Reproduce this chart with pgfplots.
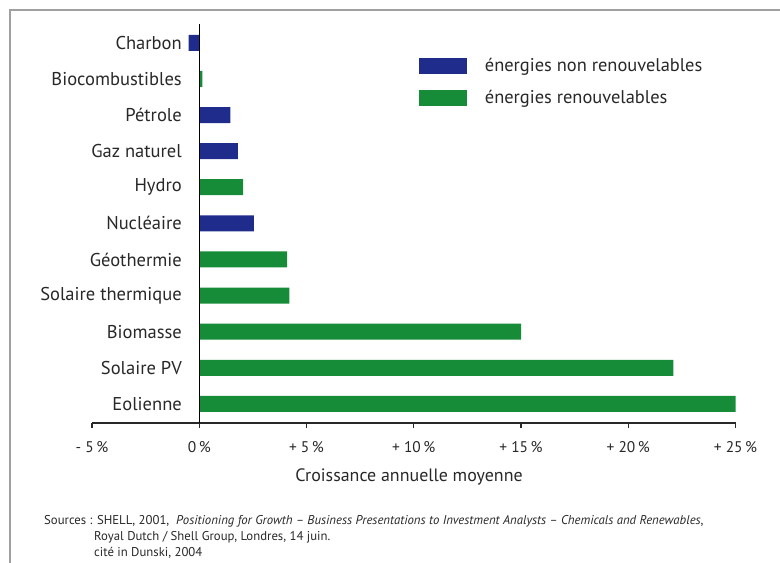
\documentclass[border=0pt]{standalone}
\usepackage{fontspec}
\setmainfont{PT Sans}
\usepackage{pgfplots}
\pgfplotsset{compat=1.18}
\definecolor{nonrenew}{RGB}{31,44,140}
\definecolor{renew}{RGB}{22,140,56}
\definecolor{axisgray}{RGB}{40,40,40}
\definecolor{framegray}{RGB}{160,160,160}
\begin{document}
\begin{tikzpicture}
\useasboundingbox (0,0) rectangle (780bp,-563bp);
\draw[framegray, line width=1.6bp] (10bp,-563bp) -- (10bp,-10bp) -- (780bp,-10bp);
\begin{axis}[
  at={(92bp,-422.7bp)}, anchor=south west,
  scale only axis, width=643.5bp, height=398.7bp,
  xbar, bar width=16bp,
  xmin=-5, xmax=25, ymin=-0.52, ymax=10.52,
  axis x line*=bottom, axis y line*=left,
  y axis line style={draw=none},
  x axis line style={axisgray, line width=1.6bp},
  xtick={-5,0,5,10,15,20,25},
  xticklabels={- 5\,\%, 0\,\%, + 5\,\%, + 10\,\%, + 15\,\%, + 20\,\%, + 25\,\%},
  tick align=outside, major tick length=5bp,
  xtick style={axisgray, line width=1.4bp},
  ytick style={draw=none},
  xticklabel style={font=\fontsize{15.5}{18}\selectfont, text=axisgray, yshift=-10bp},
  ytick={0,...,10},
  yticklabels={Eolienne, Solaire PV, Biomasse, Solaire thermique, Géothermie, Nucléaire, Hydro, Gaz naturel, Pétrole, Biocombustibles, Charbon},
  yticklabel style={font=\fontsize{18.6}{21}\selectfont, text=axisgray, inner sep=0pt, xshift=95bp},
  xlabel={Croissance annuelle moyenne},
  xlabel style={font=\fontsize{18}{21}\selectfont, text=axisgray, at={(axis description cs:0.4926,0)}, anchor=center, yshift=-54.3bp},
  legend style={at={(axis description cs:0.508,0.9155)}, anchor=north west, draw=none, fill=none,
    inner sep=0pt, outer sep=0pt, row sep=16bp, font=\fontsize{18.5}{21}\selectfont, text=axisgray,
    nodes={inner sep=0pt, anchor=west},
    /tikz/every odd column/.append style={column sep=18bp}},
  clip=false,
]
\addplot[fill=nonrenew, draw=none, bar shift=0pt,
  legend image code/.code={\fill[nonrenew] (0bp,-8bp) rectangle (48bp,8bp);}]
  coordinates {(-0.5,10) (1.45,8) (1.8,7) (2.55,5)};
\addlegendentry{énergies non renouvelables}
\addplot[fill=renew, draw=none, bar shift=0pt,
  legend image code/.code={\fill[renew] (0bp,-8bp) rectangle (48bp,8bp);}]
  coordinates {(0.15,9) (2.05,6) (4.1,4) (4.2,3) (15,2) (22.1,1) (25,0)};
\addlegendentry{énergies renouvelables}
\draw[black, line width=1.3bp] (axis cs:0,-0.52) -- (axis cs:0,10.52);
\end{axis}
\begin{scope}[every node/.style={anchor=base west, inner sep=0pt, font=\fontsize{12.8}{15}\selectfont, text=axisgray}]
\node at (44bp,-524bp) {Sources : SHELL, 2001,\ \ \textit{Positioning for Growth – Business Presentations to Investment Analysts – Chemicals and Renewables},};
\node at (94bp,-540bp) {Royal Dutch / Shell Group, Londres, 14 juin.};
\node at (94bp,-556bp) {cité in Dunski, 2004};
\end{scope}
\end{tikzpicture}
\end{document}
